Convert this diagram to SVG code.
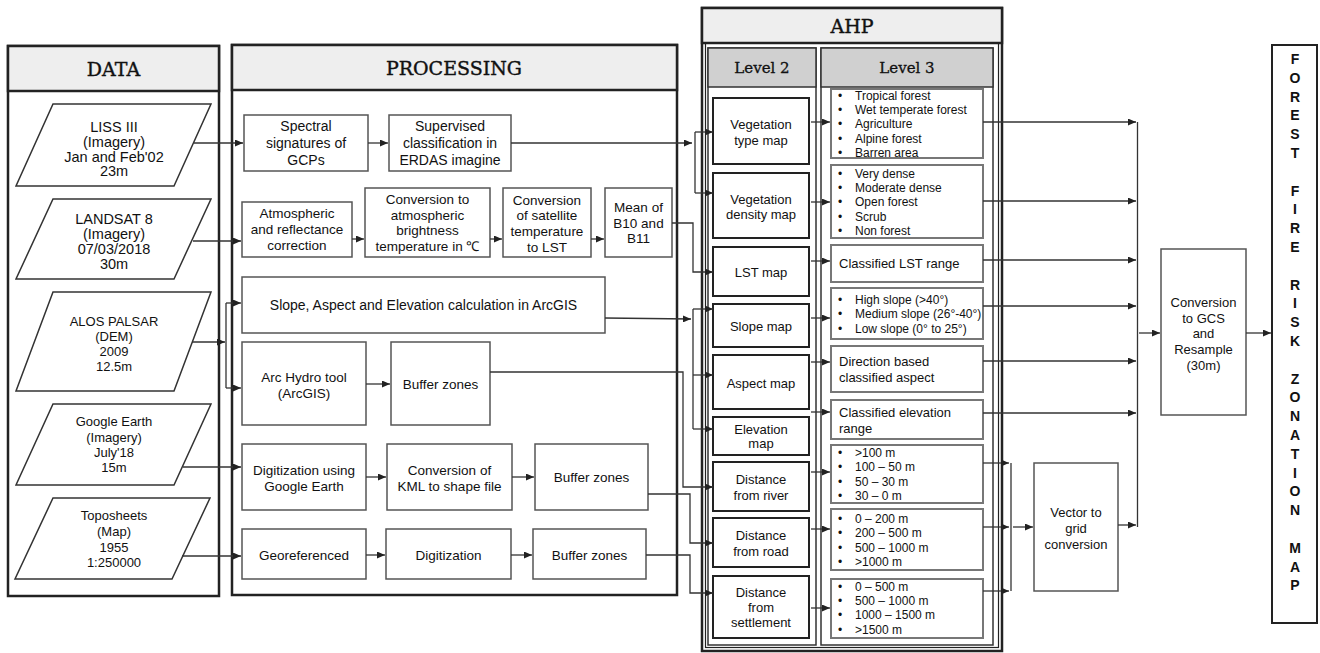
<svg xmlns="http://www.w3.org/2000/svg" width="1320" height="653" viewBox="0 0 1320 653">
<defs>
<marker id="ah" markerUnits="userSpaceOnUse" markerWidth="8" markerHeight="7" refX="8" refY="3.5" orient="auto">
<path d="M0,0 L8,3.5 L0,7 z" fill="#222"/>
</marker>
<style>
.panel{fill:#fff;stroke:#222;stroke-width:2.5}
.hdr{fill:#eeeeee;stroke:#222;stroke-width:2.5}
.thin{fill:none;stroke:#222;stroke-width:1.2}
.col{fill:#fff;stroke:#333;stroke-width:1.5}
.colh{fill:#d0d0d0;stroke:#333;stroke-width:1.5}
.box{fill:#fff;stroke:#555;stroke-width:1.5}
.par{fill:#fff;stroke:#333;stroke-width:1.5}
.lv2{fill:#fff;stroke:#222;stroke-width:2}
.lv3{fill:#fff;stroke:#777;stroke-width:2}
.ttl{font-family:"DejaVu Serif",serif;font-size:19px;fill:#111;stroke:#111;stroke-width:0.4;text-anchor:middle}
.ttl2{font-family:"DejaVu Serif",serif;font-size:15px;fill:#111;stroke:#111;stroke-width:0.3;text-anchor:middle}
.t{font-family:"Liberation Sans",Arial,sans-serif;font-size:13.5px;fill:#111;text-anchor:middle}
.t14{font-size:14px}
.t13{font-size:13px}
.l{font-family:"Liberation Sans",Arial,sans-serif;font-size:12px;fill:#111}
.l13{font-family:"Liberation Sans",Arial,sans-serif;font-size:13px;fill:#111}
.big{font-family:"Liberation Sans",Arial,sans-serif;font-size:14px;font-weight:bold;fill:#111;text-anchor:middle}
.con{fill:none;stroke:#333;stroke-width:1.3}
.arr{marker-end:url(#ah)}
</style>
</defs>

<!-- DATA panel -->
<g id="data-panel">
<rect class="panel" x="8" y="46" width="211" height="550"/>
<rect class="hdr" x="8" y="46" width="211" height="45"/>
<text class="ttl" x="113.5" y="76">DATA</text>
</g>

<!-- PROCESSING panel -->
<g id="processing-panel">
<rect class="panel" x="232" y="45" width="445" height="550"/>
<rect class="hdr" x="232" y="45" width="445" height="45"/>
<text class="ttl" x="454" y="75">PROCESSING</text>
</g>

<!-- AHP panel -->
<g id="ahp-panel">
<rect class="panel" x="702" y="8" width="300" height="643"/>
<rect class="hdr" x="702" y="8" width="300" height="35"/>
<rect class="thin" x="705.5" y="43" width="293" height="604.5"/>
<rect class="col" x="708" y="48" width="108" height="597"/>
<rect class="colh" x="708" y="48" width="108" height="39"/>
<rect class="col" x="821" y="48" width="172" height="597"/>
<rect class="colh" x="821" y="48" width="172" height="39"/>
<text class="ttl" x="852" y="33">AHP</text>
<text class="ttl2" x="762" y="73">Level 2</text>
<text class="ttl2" x="907" y="73">Level 3</text>
</g>

<!-- DATA nodes -->
<g id="d-liss">
<polygon class="par" points="53,104 211,104 174,186 16,186"/>
<text class="t" style="font-size:14.5px"><tspan x="114" y="132">LISS III</tspan><tspan x="114" y="147">(Imagery)</tspan><tspan x="114" y="162">Jan and Feb'02</tspan><tspan x="114" y="176">23m</tspan></text>
</g>
<g id="d-landsat">
<polygon class="par" points="53,199 211,199 174,279 16,279"/>
<text class="t" style="font-size:14.5px"><tspan x="114" y="224">LANDSAT 8</tspan><tspan x="114" y="239">(Imagery)</tspan><tspan x="114" y="254">07/03/2018</tspan><tspan x="114" y="269">30m</tspan></text>
</g>
<g id="d-alos">
<polygon class="par" points="53,292 211,292 174,391 16,391"/>
<text class="t t13"><tspan x="114" y="326">ALOS PALSAR</tspan><tspan x="114" y="341">(DEM)</tspan><tspan x="114" y="356">2009</tspan><tspan x="114" y="371">12.5m</tspan></text>
</g>
<g id="d-google">
<polygon class="par" points="53,404 211,404 174,485 16,485"/>
<text class="t t13"><tspan x="114" y="426">Google Earth</tspan><tspan x="114" y="442">(Imagery)</tspan><tspan x="114" y="457">July'18</tspan><tspan x="114" y="472">15m</tspan></text>
</g>
<g id="d-topo">
<polygon class="par" points="53,498 210,498 172,579 15,579"/>
<text class="t t13"><tspan x="114" y="520">Toposheets</tspan><tspan x="114" y="536">(Map)</tspan><tspan x="114" y="552">1955</tspan><tspan x="114" y="567">1:250000</tspan></text>
</g>

<!-- PROCESSING nodes -->
<g id="p-spectral">
<rect class="box" x="244" y="115" width="124" height="56"/>
<text class="t t14"><tspan x="306" y="131">Spectral</tspan><tspan x="306" y="148">signatures of</tspan><tspan x="306" y="165">GCPs</tspan></text>
</g>
<g id="p-supervised">
<rect class="box" x="389" y="115" width="122" height="56"/>
<text class="t t14"><tspan x="450" y="131">Supervised</tspan><tspan x="450" y="148">classification in</tspan><tspan x="450" y="165">ERDAS imagine</tspan></text>
</g>
<g id="p-atmospheric">
<rect class="box" x="242" y="202" width="110" height="55"/>
<text class="t"><tspan x="297" y="218">Atmospheric</tspan><tspan x="297" y="234">and reflectance</tspan><tspan x="297" y="250">correction</tspan></text>
</g>
<g id="p-brightness">
<rect class="box" x="365" y="188" width="125" height="69"/>
<text class="t"><tspan x="427.5" y="204">Conversion to</tspan><tspan x="427.5" y="220">atmospheric</tspan><tspan x="427.5" y="235">brightness</tspan><tspan x="427.5" y="251">temperature in ℃</tspan></text>
</g>
<g id="p-lstconv">
<rect class="box" x="503" y="188" width="88" height="69"/>
<text class="t"><tspan x="547" y="205">Conversion</tspan><tspan x="547" y="220">of  satellite</tspan><tspan x="547" y="236">temperature</tspan><tspan x="547" y="252">to LST</tspan></text>
</g>
<g id="p-mean">
<rect class="box" x="605" y="188" width="67" height="69"/>
<text class="t"><tspan x="638.5" y="212">Mean of</tspan><tspan x="638.5" y="228">B10 and</tspan><tspan x="638.5" y="243">B11</tspan></text>
</g>
<g id="p-slope">
<rect class="box" x="242" y="277" width="363" height="56"/>
<text class="t t14" x="423.5" y="310">Slope, Aspect and Elevation calculation in ArcGIS</text>
</g>
<g id="p-archydro">
<rect class="box" x="242" y="342" width="124" height="83"/>
<text class="t"><tspan x="304" y="382">Arc Hydro tool</tspan><tspan x="304" y="398">(ArcGIS)</tspan></text>
</g>
<g id="p-buffer1">
<rect class="box" x="391" y="342" width="99" height="83"/>
<text class="t" x="440.5" y="389">Buffer zones</text>
</g>
<g id="p-digge">
<rect class="box" x="242" y="444" width="124" height="66"/>
<text class="t"><tspan x="304" y="475">Digitization using</tspan><tspan x="304" y="491">Google Earth</tspan></text>
</g>
<g id="p-kml">
<rect class="box" x="387" y="444" width="125" height="66"/>
<text class="t"><tspan x="449.5" y="475">Conversion of</tspan><tspan x="449.5" y="491">KML to shape file</tspan></text>
</g>
<g id="p-buffer2">
<rect class="box" x="535" y="444" width="113" height="66"/>
<text class="t" x="591.5" y="482">Buffer zones</text>
</g>
<g id="p-georef">
<rect class="box" x="242" y="529" width="124" height="50"/>
<text class="t" x="304" y="560">Georeferenced</text>
</g>
<g id="p-digit">
<rect class="box" x="386" y="529" width="125" height="50"/>
<text class="t" x="448.5" y="560">Digitization</text>
</g>
<g id="p-buffer3">
<rect class="box" x="533" y="529" width="113" height="50"/>
<text class="t" x="589.5" y="560">Buffer zones</text>
</g>

<!-- Level 2 nodes -->
<g id="l2-vegtype">
<rect class="lv2" x="713" y="98" width="96" height="66"/>
<text class="t t13"><tspan x="761" y="129">Vegetation</tspan><tspan x="761" y="145">type map</tspan></text>
</g>
<g id="l2-vegdens">
<rect class="lv2" x="713" y="173" width="96" height="65"/>
<text class="t t13"><tspan x="761" y="204">Vegetation</tspan><tspan x="761" y="219">density map</tspan></text>
</g>
<g id="l2-lst">
<rect class="lv2" x="713" y="247" width="96" height="49"/>
<text class="t t13" x="761" y="277">LST map</text>
</g>
<g id="l2-slope">
<rect class="lv2" x="713" y="304" width="96" height="43"/>
<text class="t t13" x="761" y="331">Slope map</text>
</g>
<g id="l2-aspect">
<rect class="lv2" x="713" y="355" width="96" height="54"/>
<text class="t t13" x="761" y="388">Aspect map</text>
</g>
<g id="l2-elev">
<rect class="lv2" x="713" y="417" width="96" height="38"/>
<text class="t t13"><tspan x="761" y="434">Elevation</tspan><tspan x="761" y="448">map</tspan></text>
</g>
<g id="l2-river">
<rect class="lv2" x="713" y="462" width="96" height="49"/>
<text class="t t13"><tspan x="761" y="484">Distance</tspan><tspan x="761" y="500">from river</tspan></text>
</g>
<g id="l2-road">
<rect class="lv2" x="713" y="518" width="96" height="49"/>
<text class="t t13"><tspan x="761" y="540">Distance</tspan><tspan x="761" y="556">from road</tspan></text>
</g>
<g id="l2-settle">
<rect class="lv2" x="713" y="576" width="96" height="62"/>
<text class="t t13"><tspan x="761" y="597">Distance</tspan><tspan x="761" y="612">from</tspan><tspan x="761" y="627">settlement</tspan></text>
</g>

<!-- Level 3 nodes -->
<g id="l3-vegtype">
<rect class="lv3" x="831" y="89" width="152" height="69"/>
<text class="l"><tspan x="838" y="100">•</tspan><tspan x="855" y="100">Tropical forest</tspan><tspan x="838" y="114">•</tspan><tspan x="855" y="114">Wet temperate forest</tspan><tspan x="838" y="128">•</tspan><tspan x="855" y="128">Agriculture</tspan><tspan x="838" y="143">•</tspan><tspan x="855" y="143">Alpine forest</tspan><tspan x="838" y="157">•</tspan><tspan x="855" y="157">Barren area</tspan></text>
</g>
<g id="l3-vegdens">
<rect class="lv3" x="831" y="165" width="152" height="73"/>
<text class="l"><tspan x="838" y="178">•</tspan><tspan x="855" y="178">Very dense</tspan><tspan x="838" y="192">•</tspan><tspan x="855" y="192">Moderate dense</tspan><tspan x="838" y="206">•</tspan><tspan x="855" y="206">Open forest</tspan><tspan x="838" y="221">•</tspan><tspan x="855" y="221">Scrub</tspan><tspan x="838" y="235">•</tspan><tspan x="855" y="235">Non forest</tspan></text>
</g>
<g id="l3-lst">
<rect class="lv3" x="831" y="245" width="152" height="37"/>
<text class="l13" x="839" y="268">Classified LST range</text>
</g>
<g id="l3-slope">
<rect class="lv3" x="831" y="288" width="152" height="51"/>
<text class="l"><tspan x="838" y="304">•</tspan><tspan x="855" y="304">High slope (&gt;40°)</tspan><tspan x="838" y="318">•</tspan><tspan x="855" y="318">Medium slope (26°-40°)</tspan><tspan x="838" y="333">•</tspan><tspan x="855" y="333">Low slope (0° to 25°)</tspan></text>
</g>
<g id="l3-aspect">
<rect class="lv3" x="831" y="346" width="152" height="46"/>
<text class="l13"><tspan x="839" y="366">Direction based</tspan><tspan x="839" y="382">classified aspect</tspan></text>
</g>
<g id="l3-elev">
<rect class="lv3" x="831" y="400" width="152" height="39"/>
<text class="l13"><tspan x="839" y="417">Classified elevation</tspan><tspan x="839" y="433">range</tspan></text>
</g>
<g id="l3-river">
<rect class="lv3" x="831" y="445" width="152" height="58"/>
<text class="l"><tspan x="838" y="457">•</tspan><tspan x="855" y="457">&gt;100 m</tspan><tspan x="838" y="471">•</tspan><tspan x="855" y="471">100 – 50 m</tspan><tspan x="838" y="486">•</tspan><tspan x="855" y="486">50 – 30 m</tspan><tspan x="838" y="500">•</tspan><tspan x="855" y="500">30 – 0 m</tspan></text>
</g>
<g id="l3-road">
<rect class="lv3" x="831" y="509" width="152" height="61"/>
<text class="l"><tspan x="838" y="523">•</tspan><tspan x="855" y="523">0 – 200 m</tspan><tspan x="838" y="537">•</tspan><tspan x="855" y="537">200 – 500 m</tspan><tspan x="838" y="552">•</tspan><tspan x="855" y="552">500 – 1000 m</tspan><tspan x="838" y="566">•</tspan><tspan x="855" y="566">&gt;1000 m</tspan></text>
</g>
<g id="l3-settle">
<rect class="lv3" x="831" y="579" width="152" height="59"/>
<text class="l"><tspan x="838" y="591">•</tspan><tspan x="855" y="591">0 – 500 m</tspan><tspan x="838" y="605">•</tspan><tspan x="855" y="605">500 – 1000 m</tspan><tspan x="838" y="619">•</tspan><tspan x="855" y="619">1000 – 1500 m</tspan><tspan x="838" y="634">•</tspan><tspan x="855" y="634">&gt;1500 m</tspan></text>
</g>

<!-- Right side nodes -->
<g id="vector-grid">
<rect class="box" x="1034" y="463" width="84" height="128"/>
<text class="t t13"><tspan x="1076" y="517">Vector to</tspan><tspan x="1076" y="533">grid</tspan><tspan x="1076" y="549">conversion</tspan></text>
</g>
<g id="gcs-resample">
<rect class="box" x="1161" y="249" width="85" height="166"/>
<text class="t t13"><tspan x="1203.5" y="307">Conversion</tspan><tspan x="1203.5" y="323">to GCS</tspan><tspan x="1203.5" y="338">and</tspan><tspan x="1203.5" y="354">Resample</tspan><tspan x="1203.5" y="370">(30m)</tspan></text>
</g>
<g id="ffrzm">
<rect fill="#fff" stroke="#222" stroke-width="2" x="1272" y="45" width="45" height="578"/>
<text class="big"><tspan x="1295" y="64">F</tspan><tspan x="1295" y="83">O</tspan><tspan x="1295" y="102">R</tspan><tspan x="1295" y="120">E</tspan><tspan x="1295" y="139">S</tspan><tspan x="1295" y="158">T</tspan><tspan x="1295" y="196">F</tspan><tspan x="1295" y="214">I</tspan><tspan x="1295" y="233">R</tspan><tspan x="1295" y="252">E</tspan><tspan x="1295" y="290">R</tspan><tspan x="1295" y="308">I</tspan><tspan x="1295" y="327">S</tspan><tspan x="1295" y="346">K</tspan><tspan x="1295" y="384">Z</tspan><tspan x="1295" y="402">O</tspan><tspan x="1295" y="421">N</tspan><tspan x="1295" y="440">A</tspan><tspan x="1295" y="459">T</tspan><tspan x="1295" y="478">I</tspan><tspan x="1295" y="496">O</tspan><tspan x="1295" y="515">N</tspan><tspan x="1295" y="553">M</tspan><tspan x="1295" y="572">A</tspan><tspan x="1295" y="590">P</tspan></text>
</g>

<!-- Connectors -->
<g id="connectors" class="con">
<path class="arr" d="M194,143 H243"/>
<path class="arr" d="M193,241 H241"/>
<path class="arr" d="M192,342 H225"/>
<path d="M226,303 V388"/>
<path class="arr" d="M226,303 H241"/>
<path class="arr" d="M226,388 H241"/>
<path class="arr" d="M183,467 H241"/>
<path class="arr" d="M182,556 H241"/>
<path class="arr" d="M368,143 H388"/>
<path class="arr" d="M352,239 H364"/>
<path class="arr" d="M490,239 H502"/>
<path class="arr" d="M591,239 H604"/>
<path class="arr" d="M366,384 H390"/>
<path class="arr" d="M366,477 H386"/>
<path class="arr" d="M512,477 H534"/>
<path class="arr" d="M366,555 H385"/>
<path class="arr" d="M511,555 H532"/>
<path class="arr" d="M511,143 H692"/>
<path d="M695,132 V193"/>
<path class="arr" d="M695,132 H713"/>
<path class="arr" d="M695,193 H713"/>
<path class="arr" d="M672,223 H693 V272 H713"/>
<path class="arr" d="M605,318 L691,319"/>
<path d="M693,309 V429"/>
<path class="arr" d="M693,309 H713"/>
<path class="arr" d="M693,375 H713"/>
<path class="arr" d="M693,429 H713"/>
<path class="arr" d="M490,372 H683 V487 H713"/>
<path class="arr" d="M648,494 H690 V543 H713"/>
<path class="arr" d="M646,555 H690 V593 H713"/>
<path class="arr" d="M811,122 H830"/>
<path class="arr" d="M811,202 H830"/>
<path class="arr" d="M811,261 H830"/>
<path class="arr" d="M811,318 H830"/>
<path class="arr" d="M811,362 H830"/>
<path class="arr" d="M811,412 H830"/>
<path class="arr" d="M811,472 H830"/>
<path class="arr" d="M811,529 H830"/>
<path class="arr" d="M811,608 H830"/>
<path class="arr" d="M983,122 H1136"/>
<path class="arr" d="M983,201 H1136"/>
<path class="arr" d="M983,260 H1136"/>
<path class="arr" d="M983,306 H1136"/>
<path class="arr" d="M983,361 H1136"/>
<path class="arr" d="M983,413 H1136"/>
<path d="M1137.5,122 V527"/>
<path class="arr" d="M1139,333 H1160"/>
<path class="arr" d="M1246,333 H1271"/>
<path class="arr" d="M983,463 H1009"/>
<path class="arr" d="M983,527 H1009"/>
<path class="arr" d="M983,591 H1009"/>
<path d="M1011,463 V591"/>
<path class="arr" d="M1013,527 H1033"/>
<path class="arr" d="M1118,525 H1136"/>
</g>
</svg>
